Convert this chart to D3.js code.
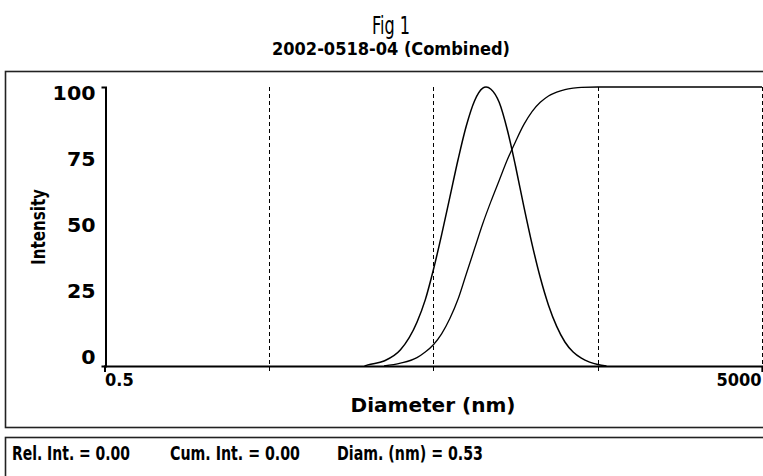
<!DOCTYPE html>
<html>
<head>
<meta charset="utf-8">
<script src="https://cdn.jsdelivr.net/npm/d3@7"></script>
<style>
  body { margin: 0; background: #fff; }
  svg { display: block; }
  .narrow { font-family: "Liberation Sans Narrow", "Arial Narrow", "DejaVu Sans Condensed", sans-serif; }
  .lbl { font-family: "Liberation Sans Narrow", "Arial Narrow", "DejaVu Sans Condensed", sans-serif; font-weight: bold; fill: #000; }
</style>
</head>
<body>
<div id="chart"></div>
<script>
// relative intensity distribution
var relDiam = [19.1, 20, 25.1, 31.6, 39.8, 44.7, 50.1, 56.2, 63.1, 70.8, 79.4, 89.1, 100, 104.7,
  112.2, 125.9, 141.3, 158.5, 177.8, 199.5, 223.9, 251.2, 281.8, 316.2, 354.8, 398.1, 446.7, 501.2, 566];
var relInt = [0, 0.4, 1.8, 5.8, 15.7, 23.7, 34.5, 47, 60.5, 74, 86, 95, 99.6, 100,
  99.2, 94.5, 84.5, 71.5, 57.2, 43.7, 31.7, 21.8, 14.2, 8.6, 5.0, 2.8, 1.4, 0.5, 0];

// cumulative intensity
var cumDiam = [25.1, 31.6, 39.8, 44.7, 50.1, 56.2, 63.1, 70.8, 79.4, 89.1, 100, 112.2, 125.9,
  141.3, 158.5, 177.8, 199.5, 223.9, 251.2, 281.8, 316.2, 354.8, 398.1, 501.2, 5000];
var cumInt = [0, 1.0, 3.0, 5.0, 7.6, 11.5, 17, 24, 33, 42, 51, 59, 66.5,
  74, 80.5, 86.5, 91.2, 94.5, 96.8, 98.2, 99.1, 99.6, 99.9, 100, 100];

var yTicks = [0, 25, 50, 75, 100];
var xTicks = [0.5, 5000];
var gridDiam = [5, 50, 500, 5000];
var readout = ["Rel. Int. = 0.00", "Cum. Int. = 0.00", "Diam. (nm) = 0.53"];

var svgWidth = 763;
var svgHeight = 476;

var svg = d3.select("#chart")
  .append("svg")
  .attr("width", svgWidth)
  .attr("height", svgHeight);

// titles
svg.append("text")
  .attr("class", "narrow")
  .attr("x", 391)
  .attr("y", 34)
  .attr("text-anchor", "middle")
  .attr("font-size", 24)
  .attr("textLength", 38)
  .attr("lengthAdjust", "spacingAndGlyphs")
  .text("Fig 1");

svg.append("text")
  .attr("class", "lbl")
  .attr("x", 391)
  .attr("y", 55)
  .attr("text-anchor", "middle")
  .attr("font-size", 17)
  .attr("textLength", 238)
  .attr("lengthAdjust", "spacingAndGlyphs")
  .text("2002-0518-04 (Combined)");

// panel frames
svg.append("rect")
  .attr("x", 5.5).attr("y", 71.5)
  .attr("width", 800).attr("height", 356)
  .attr("fill", "none").attr("stroke", "#222").attr("stroke-width", 1.6);

svg.append("rect")
  .attr("x", 5.5).attr("y", 437.5)
  .attr("width", 800).attr("height", 80)
  .attr("fill", "none").attr("stroke", "#222").attr("stroke-width", 1.6);

// scales
var x = d3.scaleLog().domain([0.5, 5000]).range([104.5, 762]);
var y = d3.scaleLinear().domain([0, 100]).range([366, 87]);
// the old software puts the y labels on a slightly tighter spacing
var yLab = d3.scaleLinear().domain([0, 100]).range([357, 93]);

// dashed decade lines
svg.selectAll(".grid")
  .data(gridDiam)
  .enter()
  .append("line")
  .attr("class", "grid")
  .attr("x1", d => Math.round(x(d)) + 0.5)
  .attr("x2", d => Math.round(x(d)) + 0.5)
  .attr("y1", y(100))
  .attr("y2", y(0) + 5)
  .attr("stroke", "#000")
  .attr("stroke-width", 1)
  .attr("stroke-dasharray", "4,3");

// y axis
var leftAxis = d3.axisLeft(y).tickValues(yTicks).tickSizeInner(0).tickSizeOuter(4).tickPadding(10);
var gy = svg.append("g")
  .attr("transform", "translate(105.5,0)")
  .call(leftAxis);
gy.select(".domain").attr("stroke-width", 2);
gy.selectAll("text")
  .attr("class", "lbl")
  .attr("font-size", 19)
  .attr("textLength", d => String(d).length * 14.3)
  .attr("lengthAdjust", "spacingAndGlyphs")
  .attr("y", d => yLab(d) - y(d));

// x axis
var bottomAxis = d3.axisBottom(x).tickValues(xTicks).tickSize(6).tickFormat(d3.format("")).tickPadding(1);
var gx = svg.append("g")
  .attr("transform", `translate(0, ${y(0)})`)
  .call(bottomAxis);
gx.select(".domain").attr("stroke-width", 2);
gx.selectAll(".tick line").attr("stroke-width", 1.5);
gx.selectAll("text")
  .attr("class", "lbl")
  .attr("font-size", 18)
  .attr("text-anchor", (d, i) => i === 0 ? "start" : "end")
  .attr("dx", (d, i) => i === 0 ? 0 : -1);

// curves
var relLine = d3.line()
  .x((d, i) => x(relDiam[i]))
  .y(d => y(d))
  .curve(d3.curveMonotoneX);

var cumLine = d3.line()
  .x((d, i) => x(cumDiam[i]))
  .y(d => y(d))
  .curve(d3.curveMonotoneX);

svg.append("path")
  .attr("d", relLine(relInt))
  .attr("fill", "none")
  .attr("stroke", "#000")
  .attr("stroke-width", 1.5);

svg.append("path")
  .attr("d", cumLine(cumInt))
  .attr("fill", "none")
  .attr("stroke", "#000")
  .attr("stroke-width", 1.3);

// axis titles
svg.append("text")
  .attr("class", "lbl")
  .attr("transform", "translate(45, 227) rotate(-90)")
  .attr("text-anchor", "middle")
  .attr("font-size", 20)
  .attr("textLength", 76)
  .attr("lengthAdjust", "spacingAndGlyphs")
  .text("Intensity");

svg.append("text")
  .attr("class", "lbl")
  .attr("x", 433)
  .attr("y", 412)
  .attr("text-anchor", "middle")
  .attr("font-size", 19)
  .attr("textLength", 165)
  .attr("lengthAdjust", "spacingAndGlyphs")
  .text("Diameter (nm)");

// readout line
svg.selectAll(".readout")
  .data(readout)
  .enter()
  .append("text")
  .attr("class", "lbl readout")
  .attr("x", (d, i) => [12, 170, 337][i])
  .attr("y", 460)
  .attr("font-size", 20)
  .attr("textLength", (d, i) => [118, 130, 146][i])
  .attr("lengthAdjust", "spacingAndGlyphs")
  .text(d => d);
</script>
</body>
</html>
